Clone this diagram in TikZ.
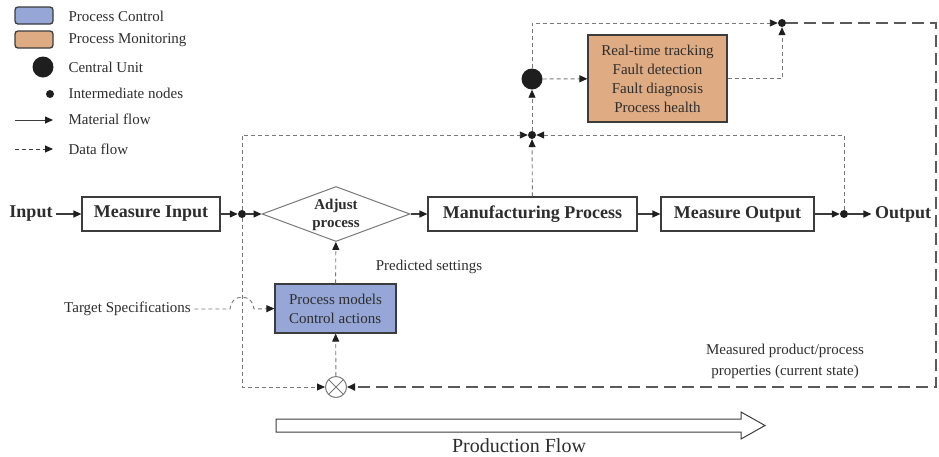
\documentclass[tikz,border=0pt]{standalone}
\usepackage{fontspec}
\setmainfont{Liberation Serif}
\usetikzlibrary{arrows.meta,shapes.geometric}
\definecolor{ctrlblue}{RGB}{150,166,214}
\definecolor{monorange}{RGB}{223,171,130}
\definecolor{txt}{RGB}{45,45,45}
\definecolor{edgec}{RGB}{60,60,60}
\definecolor{dline}{RGB}{120,120,120}
\definecolor{dotc}{RGB}{30,30,30}
\begin{document}
\begin{tikzpicture}[x=1pt,y=-1pt,
  every node/.style={text=txt},
  reg/.style={font=\fontsize{15}{18}\selectfont},
  boldt/.style={font=\bfseries\fontsize{18}{21}\selectfont},
  procbox/.style={draw=edgec, line width=1.2pt, fill=white, minimum height=34pt, inner sep=0pt, boldt},
  mat/.style={draw=edgec, line width=1.2pt, -{Triangle[length=8pt,width=7pt,color=dotc]}},
  data/.style={draw=dline, line width=0.9pt, dash pattern=on 4pt off 3pt, -{Triangle[length=8pt,width=7pt,color=dotc]}},
  longdata/.style={draw=dline!75!black, line width=1.7pt, dash pattern=on 12pt off 6pt, -{Triangle[length=8pt,width=7pt,color=dotc]}},
  dot/.style={circle, fill=dotc, inner sep=0pt, minimum size=8pt},
  cunit/.style={circle, fill=dotc, inner sep=0pt, minimum size=21pt},
  legbox/.style={draw=edgec, line width=1.3pt, rounded corners=3pt, minimum width=38pt, minimum height=17pt, inner sep=0pt},
  legtext/.style={reg, anchor=west}
]
\useasboundingbox (0,0) rectangle (939,456);

% ---------- legend ----------
\node[legbox, fill=ctrlblue] (lg1) at (34,15.5) {};
\node[legbox, fill=monorange] (lg2) at (34,39.5) {};
\node[cunit, minimum size=21pt] (lg3) at (43,67) {};
\node[dot, minimum size=8pt] (lg4) at (50,94) {};
\coordinate (lg5a) at (15,120);
\coordinate (lg5b) at (53,120);
\coordinate (lg6a) at (15,149);
\coordinate (lg6b) at (53,149);
\draw[mat, line width=1pt] (lg5a) -- (lg5b);
\draw[data, draw=edgec] (lg6a) -- (lg6b);
\node[legtext] (lt1) at (65,16) {Process Control};
\node[legtext] (lt2) at (65,40) {Process Monitoring};
\node[legtext] (lt3) at (65,67) {Central Unit};
\node[legtext] (lt4) at (65,93) {Intermediate nodes};
\node[legtext] (lt5) at (65,119) {Material flow};
\node[legtext] (lt6) at (65,149) {Data flow};

% ---------- main row ----------
\node[boldt] (in) at (31,214) {Input};
\node[procbox, minimum width=138pt] (mi) at (151,214) {Measure Input};
\node[dot] (d1) at (242,214) {};
\node[diamond, draw=dline, line width=1pt, fill=white, minimum width=148pt, minimum height=55pt, inner sep=0pt] (adj) at (336,214) {};
\node[font=\bfseries\fontsize{15}{18}\selectfont, align=center] (adjt) at (336,215) {Adjust\\process};
\node[procbox, minimum width=209pt] (mp) at (532.5,214) {Manufacturing Process};
\node[procbox, minimum width=153pt] (mo) at (737.5,214) {Measure Output};
\node[dot] (d2) at (844,214) {};
\node[boldt] (out) at (903,214) {Output};

% ---------- monitoring branch ----------
\node[dot] (d3) at (532,135) {};
\node[cunit] (cu) at (532,79) {};
\node[draw=edgec, line width=1.2pt, fill=monorange, minimum width=139pt, minimum height=87pt, inner sep=0pt, align=center, font=\fontsize{15}{19}\selectfont] (mon) at (657.5,78.5) {Real-time tracking\\Fault detection\\Fault diagnosis\\Process health};
\node[dot] (d4) at (782,23) {};
\coordinate (c1) at (936,23);

% ---------- control branch ----------
\node[draw=edgec, line width=1.2pt, fill=ctrlblue, minimum width=121pt, minimum height=49pt, inner sep=0pt, align=left, font=\fontsize{15}{19}\selectfont] (ctrl) at (335.5,308.5) {Process models\\Control actions};
\node[circle, draw=dline, line width=1pt, fill=white, minimum size=21pt, inner sep=0pt,
  path picture={\draw[dline, line width=1pt] (path picture bounding box.north west) -- (path picture bounding box.south east) (path picture bounding box.south west) -- (path picture bounding box.north east);}] (ot) at (336,387) {};
\node[reg] (ts) at (127.5,309) {Target Specifications};
\node[reg] (ps) at (429,267) {Predicted settings};
\node[reg, align=center, font=\fontsize{15}{21}\selectfont] (mpp) at (785,361) {Measured product/process\\properties (current state)};

% ---------- material flow ----------
\draw[mat] (in) -- (mi);
\draw[mat] (mi) -- (d1);
\draw[mat] (d1) -- (adj);
\draw[mat] (adj) -- (mp);
\draw[mat] (mp) -- (mo);
\draw[mat] (mo) -- (d2);
\draw[mat] (d2) -- (out);

% ---------- data flow ----------
\draw[data] (d2) |- (d3);
\draw[data] (mp) -- (d3);
\draw[data] (d1) |- (d3);
\draw[data] (d1) |- (ot);
\draw[data] (d3) -- (cu);
\draw[data] (cu) -- (mon);
\draw[data] (cu) |- (d4);
\draw[data] (mon.east) -| (d4);
\draw[longdata] (d4) -- (c1) |- (ot);
\draw[data] (ot) -- (ctrl);
\draw[data] (ctrl) -- (adj);
\draw[data] (ts.east) -- (230,309) arc[start angle=180, end angle=0, radius=12pt] -- (ctrl.west);

% ---------- production flow ----------
\draw[draw=edgec, line width=1pt, fill=white] (276,419) -- (741,419) -- (741,412) -- (765,425.5) -- (741,439) -- (741,432) -- (276,432) -- cycle;
\node[font=\fontsize{20}{24}\selectfont] (pf) at (519,446) {Production Flow};
\end{tikzpicture}
\end{document}
